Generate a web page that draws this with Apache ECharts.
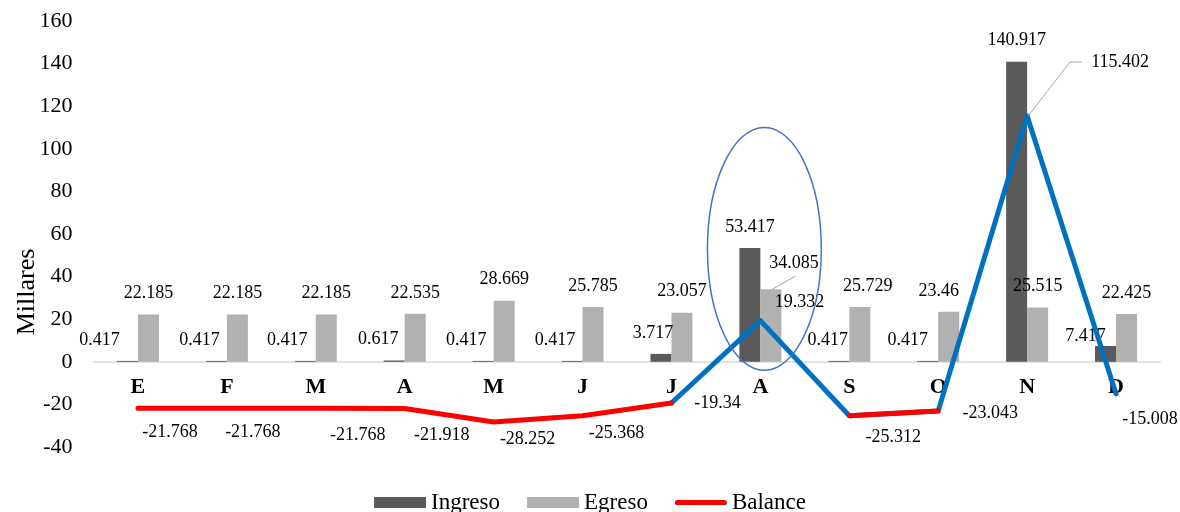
<!DOCTYPE html>
<html>
<head>
<meta charset="utf-8">
<script src="https://cdn.jsdelivr.net/npm/echarts@6/dist/echarts.min.js"></script>
<style>
  html, body { margin: 0; padding: 0; background: #ffffff; }
  #chart { width: 1180px; height: 512px; }
</style>
</head>
<body>
<div id="chart"></div>
<script>
// Monthly income, expense and balance (thousands)
const months = ['E', 'F', 'M', 'A', 'M', 'J', 'J', 'A', 'S', 'O', 'N', 'D'];
const ingreso = [0.417, 0.417, 0.417, 0.617, 0.417, 0.417, 3.717, 53.417, 0.417, 0.417, 140.917, 7.417];
const egreso = [22.185, 22.185, 22.185, 22.535, 28.669, 25.785, 23.057, 34.085, 25.729, 23.46, 25.515, 22.425];
const balance = [-21.768, -21.768, -21.768, -21.918, -28.252, -25.368, -19.34, 19.332, -25.312, -23.043, 115.402, -15.008];
const yMin = -40;
const yMax = 160;
const yStep = 20;

// Label nudges (pixels), one per month
const ingresoLabelShift = [[-28, 0], [-17, 0], [-18, 0], [-16, 0], [-17, 0], [-17, 0], [-8, 0], [0, 0], [-11, 0], [-20, 0], [0, 0], [-20, 11]];
const egresoLabelShift = [[0, 0], [0, 0], [0, 0], [0, 0], [0, 0], [0, 0], [0, 0], [23, -5], [8, 0], [-10, 0], [0, 0], [0, 0]];
const balanceLabelShift = [[32, 24], [26, 24], [42, 27], [37, 27], [34, 17], [34, 17], [46, 0], [39, -18], [44, 22], [52, 2], [93, -54], [34, 25]];

const FONT = "'Liberation Serif', 'Times New Roman', serif";
const DARK = '#5a5a5a';
const LIGHT = '#b1b1b1';
const RED = '#ff0000';
const BLUE = '#0070c0';

// Plot area
const GRID = { left: 93.5, right: 19.5, top: 21, bottom: 65 };
const plotH = 512 - GRID.top - GRID.bottom;
// Category axis sits on the zero line: shift it up from the bottom edge
const zeroOffset = -plotH * (0 - yMin) / (yMax - yMin);

// A segment is drawn blue when it reaches the positive side
const n = balance.length;
const segUp = i => balance[i] > 0 || balance[i + 1] > 0;
const redLine = balance.map((v, i) => ((i > 0 && !segUp(i - 1)) || (i < n - 1 && !segUp(i))) ? v : null);
const blueLine = balance.map((v, i) => ((i > 0 && segUp(i - 1)) || (i < n - 1 && segUp(i))) ? v : null);

const chart = echarts.init(document.getElementById('chart'), null, { renderer: 'canvas' });

const baseLabel = { fontFamily: FONT, fontSize: 18, color: '#000000' };

chart.setOption({
  animation: false,
  backgroundColor: '#ffffff',
  grid: Object.assign({ outerBoundsMode: 'none' }, GRID),
  legend: {
    left: 'center',
    top: 486,
    itemWidth: 52,
    itemHeight: 11,
    itemGap: 27,
    textStyle: { fontFamily: FONT, fontSize: 23, color: '#000000' },
    data: [
      { name: 'Ingreso', icon: 'rect' },
      { name: 'Egreso', icon: 'rect' },
      { name: 'Balance', icon: 'path://M3,0 L57,0 A3,3 0 0 1 57,6 L3,6 A3,3 0 0 1 3,0 Z' }
    ],
    selectedMode: false
  },
  xAxis: {
    type: 'category',
    data: months,
    position: 'bottom',
    offset: zeroOffset,
    axisLine: { onZero: false, lineStyle: { color: '#d9d9d9', width: 1.5 } },
    axisTick: { show: false },
    axisLabel: { interval: 0, fontFamily: FONT, fontSize: 22, fontWeight: 'bold', color: '#000000', margin: 15 }
  },
  yAxis: {
    type: 'value',
    min: yMin,
    max: yMax,
    interval: yStep,
    splitLine: { show: false },
    axisLine: { show: false },
    axisTick: { show: false },
    axisLabel: { fontFamily: FONT, fontSize: 22, color: '#000000', margin: 21 }
  },
  series: [
    {
      name: 'Ingreso',
      type: 'bar',
      barWidth: 21,
      barGap: '0%',
      z: 1,
      itemStyle: { color: DARK },
      label: Object.assign({ show: true, position: 'top', distance: 12, formatter: p => String(p.value) }, baseLabel),
      data: ingreso.map((v, i) => ({ value: v, label: { offset: ingresoLabelShift[i] } }))
    },
    {
      name: 'Egreso',
      type: 'bar',
      barWidth: 21,
      barGap: '0%',
      z: 1,
      itemStyle: { color: LIGHT },
      label: Object.assign({ show: true, position: 'top', distance: 12, formatter: p => String(p.value) }, baseLabel),
      data: egreso.map((v, i) => ({ value: v, label: { offset: egresoLabelShift[i] } }))
    },
    {
      name: 'Balance positivo',
      type: 'line',
      z: 3,
      symbol: 'none',
      connectNulls: false,
      lineStyle: { color: BLUE, width: 5, cap: 'round', join: 'round' },
      itemStyle: { color: BLUE },
      data: blueLine
    },
    {
      name: 'Balance',
      type: 'line',
      z: 4,
      symbol: 'none',
      connectNulls: false,
      lineStyle: { color: RED, width: 5, cap: 'round', join: 'round' },
      itemStyle: { color: RED },
      data: redLine
    },
    {
      name: 'Balance valores',
      type: 'line',
      z: 5,
      silent: true,
      symbol: 'circle',
      symbolSize: 1,
      showSymbol: true,
      showAllSymbol: true,
      itemStyle: { color: 'rgba(0,0,0,0)' },
      lineStyle: { width: 0, opacity: 0 },
      label: Object.assign({ show: true, position: 'inside', align: 'center', verticalAlign: 'middle', formatter: p => String(p.value) }, baseLabel),
      emphasis: { disabled: true },
      data: balance.map((v, i) => ({ value: v, label: { offset: balanceLabelShift[i] } }))
    }
  ]
});

// Annotations placed through the axes: leader lines, highlight ellipse, axis title
const toPx = (i, v) => chart.convertToPixel({ seriesIndex: 0 }, [i, v]);
const unitPx = toPx(0, 0)[1] - toPx(0, 1)[1];
const bandPx = toPx(1, 0)[0] - toPx(0, 0)[0];

const augIdx = 7;
const novIdx = 10;
const egTop = toPx(augIdx, egreso[augIdx]);
const novPt = toPx(novIdx, balance[novIdx]);
const ellipseC = toPx(augIdx, 53);

chart.setOption({
  graphic: [
    {
      type: 'polyline',
      silent: true,
      z: 10,
      shape: { points: [[egTop[0] + 12, egTop[1]], [egTop[0] + 35, egTop[1] - 13]] },
      style: { stroke: '#a6a6a6', lineWidth: 1, fill: null }
    },
    {
      type: 'polyline',
      silent: true,
      z: 10,
      shape: { points: [[novPt[0] + 1, novPt[1]], [novPt[0] + 43, novPt[1] - 54], [novPt[0] + 55, novPt[1] - 54]] },
      style: { stroke: '#a6a6a6', lineWidth: 1, fill: null }
    },
    {
      type: 'ellipse',
      silent: true,
      z: 10,
      shape: { cx: ellipseC[0] + 4, cy: ellipseC[1], rx: bandPx * 0.64, ry: unitPx * 57 },
      style: { stroke: '#4472c4', lineWidth: 1.5, fill: null }
    },
    {
      type: 'text',
      silent: true,
      x: 27,
      y: 292,
      rotation: Math.PI / 2,
      style: { text: 'Millares', font: "26px 'Liberation Serif', 'Times New Roman', serif", fill: '#000000', align: 'center', verticalAlign: 'middle' }
    }
  ]
});
</script>
</body>
</html>
